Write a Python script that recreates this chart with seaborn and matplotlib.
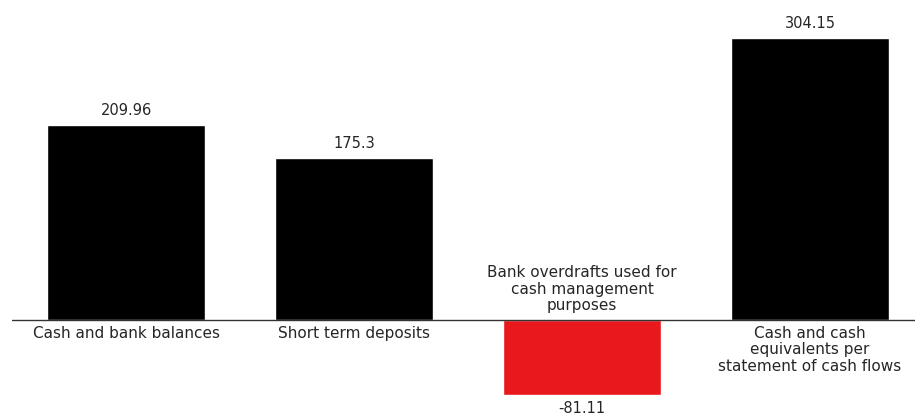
import matplotlib
matplotlib.use("Agg")
import matplotlib.pyplot as plt
import seaborn as sns
import pandas as pd

categories = [
    "Cash and bank balances",
    "Short term deposits",
    "Bank overdrafts used for\ncash management\npurposes",
    "Cash and cash\nequivalents per\nstatement of cash flows",
]
values = [209.96, 175.3, -81.11, 304.15]
value_labels = ["209.96", "175.3", "-81.11", "304.15"]

POS_COLOR = "#000000"
NEG_COLOR = "#e8181c"
TEXT_COLOR = "#262626"

sns.set_theme(style="white")
plt.rcParams["font.family"] = ["DejaVu Sans"]

df = pd.DataFrame({"category": categories, "value": values})
df["sign"] = ["neg" if v < 0 else "pos" for v in values]

fig = plt.figure(figsize=(9.15, 4.18), dpi=100)
ax = fig.add_axes([12 / 915, 1 - 413 / 418, 912 / 915, (413 - 14) / 418])

sns.barplot(
    data=df, x="category", y="value", hue="sign",
    palette={"pos": POS_COLOR, "neg": NEG_COLOR},
    width=0.69, dodge=False, legend=False, ax=ax, saturation=1,
)

ax.set_xlim(-0.5, 3.5)
ax.set_ylim(-100, 330)
ax.axhline(0, color="#333333", linewidth=1.0, zorder=3)

for i, (v, lab, cat) in enumerate(zip(values, value_labels, categories)):
    if v >= 0:
        ax.annotate(lab, (i, v), xytext=(0, 5), textcoords="offset points",
                    ha="center", va="bottom", fontsize=10.5, color=TEXT_COLOR)
        ax.annotate(cat, (i, 0), xytext=(0, -4), textcoords="offset points",
                    ha="center", va="top", fontsize=11, color=TEXT_COLOR,
                    linespacing=1.12)
    else:
        ax.annotate(lab, (i, v), xytext=(0, -4), textcoords="offset points",
                    ha="center", va="top", fontsize=10.5, color=TEXT_COLOR)
        ax.annotate(cat, (i, 0), xytext=(0, 5), textcoords="offset points",
                    ha="center", va="bottom", fontsize=11, color=TEXT_COLOR,
                    linespacing=1.12)

ax.set_xticks([])
ax.set_yticks([])
ax.set_xlabel("")
ax.set_ylabel("")
sns.despine(ax=ax, left=True, bottom=True)

fig.savefig("out.png", dpi=100)
